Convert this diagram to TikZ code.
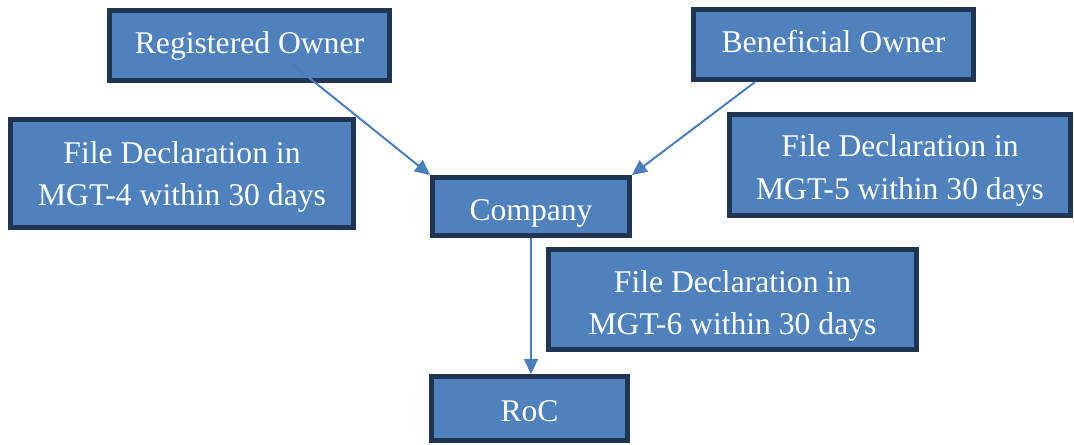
\documentclass[tikz,border=0pt]{standalone}
\usepackage{fontspec}
\setmainfont{Liberation Serif}
\usetikzlibrary{arrows.meta}
\definecolor{boxfill}{RGB}{79,129,189}
\definecolor{boxline}{RGB}{31,53,82}
\definecolor{arrowblue}{RGB}{74,126,187}
\begin{document}
\begin{tikzpicture}[x=0.02cm, y=-0.02cm,
    box/.style={draw=boxline, fill=boxfill, line width=0.1cm, rectangle, inner sep=0pt,
        text=white, align=center, font=\fontsize{18}{24}\selectfont},
    link/.style={draw=arrowblue, line width=0.04cm, -{Triangle[length=0.3cm, width=0.28cm]}}]
        \useasboundingbox (0, 0) rectangle (1074, 445);

        % Owners
        \node[box, minimum width=5.6cm, minimum height=1.4cm] (ro) at (249.5, 45.5) {Registered Owner};
        \node[box, minimum width=5.6cm, minimum height=1.4cm, text depth=3.4pt] (bo) at (833.5, 44.5) {Beneficial Owner};

        % Declarations
        \node[box, minimum width=6.86cm, minimum height=2.16cm, text height=40.4pt] (mgt4) at (182, 173.5) {File Declaration in\\MGT-4 within 30 days};
        \node[box, minimum width=6.82cm, minimum height=2.02cm, text height=42.6pt] (mgt5) at (900, 165) {File Declaration in\\MGT-5 within 30 days};
        \node[box, minimum width=7.36cm, minimum height=2cm, text height=43.8pt] (mgt6) at (732.5, 299.5) {File Declaration in\\MGT-6 within 30 days};

        % Company and RoC
        \node[box, minimum width=3.94cm, minimum height=1.16cm, text height=20pt] (co) at (531, 206.5) {Company};
        \node[box, minimum width=3.94cm, minimum height=1.28cm, text height=14.5pt] (roc) at (529.5, 408.5) {RoC};

        % Flows
        \coordinate (ro-foot) at (292, 64);
        \coordinate (bo-foot) at (755, 82);
        \draw[link] (ro-foot) -- (co.north west);
        \draw[link] (bo-foot) -- (co.north east);
        \draw[link] (co.south) -- (co.south |- roc.north);
    \end{tikzpicture}
\end{document}
